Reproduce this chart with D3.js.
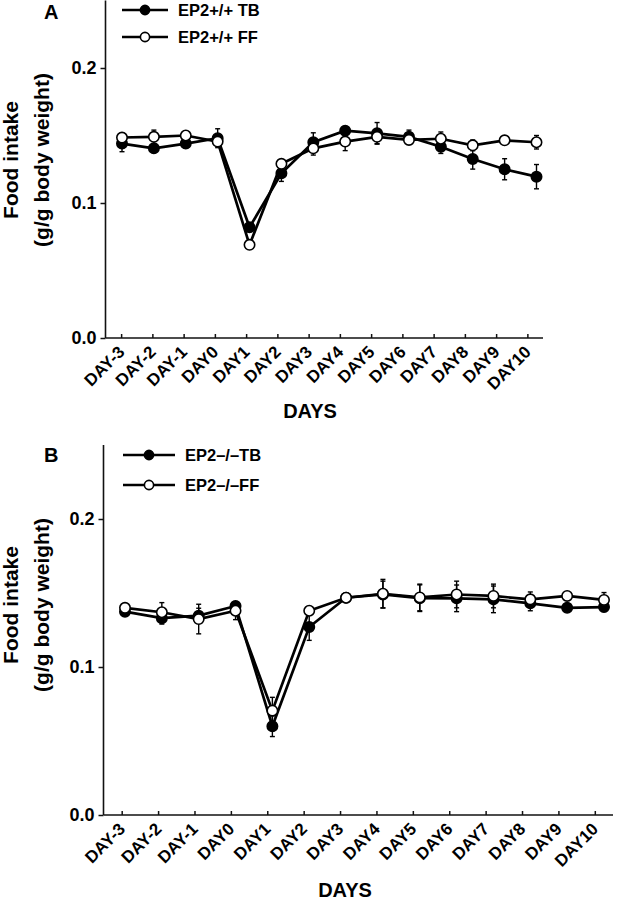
<!DOCTYPE html>
<html><head><meta charset="utf-8">
<script src="https://cdn.jsdelivr.net/npm/d3@7"></script>
<style>
body{margin:0;background:#fff;}
svg text{font-family:"Liberation Sans",Arial,sans-serif;font-weight:bold;fill:#000;}
</style></head>
<body><svg id="c" width="622" height="905"></svg>
<script>
const days = ["DAY-3","DAY-2","DAY-1","DAY0","DAY1","DAY2","DAY3","DAY4","DAY5","DAY6","DAY7","DAY8","DAY9","DAY10"];
const yTicks = [0, 0.1, 0.2];
const yTickLabels = ["0.0","0.1","0.2"];

const aLabels = ["EP2+/+ TB","EP2+/+ FF"];
const aTB    = [0.144,0.1405,0.144,0.148,0.082,0.122,0.145,0.1536,0.1516,0.149,0.1417,0.1326,0.125,0.1195];
const aTBerr = [0.006,0.003,0.003,0.007,0.003,0.006,0.007,0.003,0.008,0.005,0.005,0.0075,0.0078,0.009];
const aFF    = [0.1485,0.149,0.150,0.1455,0.069,0.129,0.1405,0.1455,0.149,0.1467,0.1476,0.1427,0.1464,0.145];
const aFFerr = [0.003,0.005,0.003,0.003,0.002,0.003,0.005,0.0067,0.005,0.003,0.005,0.004,0.002,0.005];

const bLabels = ["EP2\u2013/\u2013TB","EP2\u2013/\u2013FF"];
const bTB    = [0.1374,0.133,0.1347,0.1412,0.060,0.127,0.1468,0.149,0.1465,0.1464,0.1457,0.143,0.140,0.1405];
const bTBerr = [0.002,0.004,0.005,0.003,0.007,0.009,0.002,0.009,0.009,0.009,0.009,0.005,0.002,0.003];
const bFF    = [0.140,0.137,0.1324,0.138,0.0705,0.138,0.1468,0.1495,0.147,0.149,0.148,0.1457,0.148,0.1453];
const bFFerr = [0.002,0.0065,0.010,0.006,0.009,0.002,0.002,0.0097,0.009,0.009,0.008,0.005,0.002,0.005];

const svg = d3.select("#c");

function panel(cfg){
  const g = svg.append("g");
  const y = d3.scaleLinear().domain([0,0.25]).range([cfg.y0, cfg.yTop]);
  const xAxisScale = d3.scalePoint().domain(days).range([cfg.x0, cfg.x1]).padding(0.5);
  const x = d3.scalePoint().domain(days).range([cfg.m0, cfg.m1]);

  const ya = g.append("g").attr("transform",`translate(${cfg.x0},0)`)
    .call(d3.axisLeft(y).tickValues(yTicks).tickFormat((d,i)=>yTickLabels[i]).tickSize(5).tickPadding(4));
  ya.select(".domain").attr("stroke","#111").attr("stroke-width",1.6).attr("d",`M0,${cfg.yTop}V${cfg.y0}`);
  ya.selectAll(".tick line").attr("stroke","#111").attr("stroke-width",1.5);
  ya.selectAll(".tick text").style("font-size","18px");

  const xa = g.append("g").attr("transform",`translate(0,${cfg.y0})`)
    .call(d3.axisBottom(xAxisScale).tickSize(-4).tickSizeOuter(0));
  xa.select(".domain").attr("stroke","#111").attr("stroke-width",1.6).attr("d",`M${cfg.x0},0H${cfg.x1}`);
  xa.selectAll(".tick line").attr("stroke","#111").attr("stroke-width",1.5);
  xa.selectAll(".tick text")
    .style("font-size", cfg.tickFont+"px")
    .attr("text-anchor","end")
    .attr("y",0).attr("dy",0)
    .attr("transform",`translate(${cfg.tdx},${cfg.tdy}) rotate(-45)`);

  g.append("text").attr("x",cfg.xTitleX).attr("y",cfg.xTitleY).attr("text-anchor","middle")
    .style("font-size","20px").text("DAYS");
  g.append("text").attr("transform",`translate(${cfg.yt1},${cfg.ytc}) rotate(-90)`)
    .attr("text-anchor","middle").style("font-size","21px").text("Food intake");
  g.append("text").attr("transform",`translate(${cfg.yt2},${cfg.ytc}) rotate(-90)`)
    .attr("text-anchor","middle").style("font-size","21px").text("(g/g body weight)");
  g.append("text").attr("x",cfg.letterX).attr("y",cfg.letterY).style("font-size","20px").text(cfg.letter);

  const series = [
    {vals:cfg.tb, err:cfg.tbErr, fill:"#000"},
    {vals:cfg.ff, err:cfg.ffErr, fill:"#fff"}
  ];
  const line = d3.line().x((d,i)=>x(days[i])).y(d=>y(d));
  series.forEach(s=>{
    const sg = g.append("g");
    s.vals.forEach((v,i)=>{
      const cx = x(days[i]);
      const lo = y(v - s.err[i]), hi = y(v + s.err[i]);
      sg.append("line").attr("x1",cx).attr("x2",cx).attr("y1",lo).attr("y2",hi).attr("stroke","#000").attr("stroke-width",1.4);
      [lo,hi].forEach(yy=>sg.append("line").attr("x1",cx-2.5).attr("x2",cx+2.5).attr("y1",yy).attr("y2",yy).attr("stroke","#000").attr("stroke-width",1.4));
    });
    sg.append("path").datum(s.vals).attr("d",line).attr("fill","none").attr("stroke","#000").attr("stroke-width",2.7);
    sg.selectAll("circle").data(s.vals).enter().append("circle")
      .attr("cx",(d,i)=>x(days[i])).attr("cy",d=>y(d)).attr("r",5.2)
      .attr("fill",s.fill).attr("stroke","#000").attr("stroke-width",1.6);
  });

  cfg.labels.forEach((lab,i)=>{
    const ly = cfg.legY[i];
    g.append("line").attr("x1",cfg.legX0).attr("x2",cfg.legX1).attr("y1",ly).attr("y2",ly).attr("stroke","#000").attr("stroke-width",2.6);
    g.append("circle").attr("cx",(cfg.legX0+cfg.legX1)/2).attr("cy",ly).attr("r",4.6)
      .attr("fill",i===0?"#000":"#fff").attr("stroke","#000").attr("stroke-width",1.6);
    g.append("text").attr("x",cfg.legTX).attr("y",ly).attr("dy","0.36em").style("font-size","16.5px").text(lab);
  });
}

panel({letter:"A", letterX:44, letterY:19,
  x0:105.5, x1:543, y0:338, yTop:0.5, m0:122, m1:536.5,
  tickFont:17, tdx:4, tdy:15,
  xTitleX:310, xTitleY:418, yt1:18, yt2:49, ytc:160,
  labels:aLabels, legY:[10,37], legX0:122, legX1:168, legTX:178,
  tb:aTB, tbErr:aTBerr, ff:aFF, ffErr:aFFerr});

panel({letter:"B", letterX:44, letterY:462,
  x0:103.5, x1:613, y0:815, yTop:445, m0:125, m1:604,
  tickFont:17, tdx:4, tdy:15,
  xTitleX:345, xTitleY:897, yt1:18, yt2:49, ytc:605,
  labels:bLabels, legY:[455,485], legX0:123, legX1:175, legTX:185,
  tb:bTB, tbErr:bTBerr, ff:bFF, ffErr:bFFerr});
</script></body></html>
